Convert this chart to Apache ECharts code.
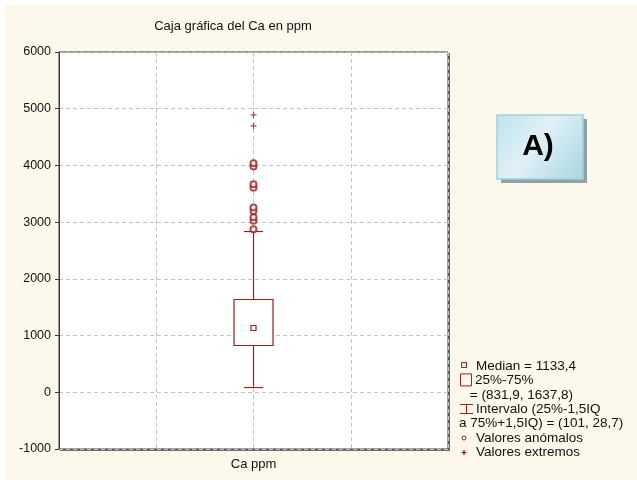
<!DOCTYPE html>
<html>
<head>
<meta charset="utf-8">
<script src="https://cdn.jsdelivr.net/npm/echarts@6/dist/echarts.min.js"></script>
<style>
html,body{margin:0;padding:0;background:#fff;}
#c{width:637px;height:480px;}
</style>
</head>
<body>
<div id="c"></div>
<script>
// ---- data ----
const categories = ['Ca ppm'];
// [whisker low, Q1, median, Q3, whisker high]
const boxStats = [101, 831.9, 1133.4, 1637.8, 2840];
const outliers = [2875, 3026, 3086, 3197, 3256, 3608, 3668, 3980, 4040];
const extremes = [4697, 4890];
const yMin = -1000, yMax = 6000, yStep = 1000;
const titleText = 'Caja gráfica del Ca en ppm';
const legendLines = [
  'Median = 1133,4',
  '25%-75%',
  ' = (831,9, 1637,8)',
  'Intervalo (25%-1,5IQ',
  'a 75%+1,5IQ) = (101, 28,7)',
  'Valores anómalos',
  'Valores extremos'
];

const RED = '#962020';
const FONT = 'Liberation Sans, Arial, sans-serif';

const chart = echarts.init(document.getElementById('c'), null, {renderer: 'canvas'});

const legendY0 = 366, legendDy = 14.4;
const legendGraphics = [];
const textX = [476, 475, 466, 476, 459, 476, 476];
legendLines.forEach((t, i) => {
  legendGraphics.push({
    type: 'text', x: textX[i], y: legendY0 + i * legendDy,
    style: {text: t, font: '13.5px ' + FONT, fill: '#111', textVerticalAlign: 'middle'}
  });
});
// icons
legendGraphics.push({type: 'rect', shape: {x: 461.5, y: legendY0 - 3.5, width: 5, height: 5}, style: {fill: 'none', stroke: RED, lineWidth: 1}});
legendGraphics.push({type: 'rect', shape: {x: 460.5, y: legendY0 + legendDy - 6.5, width: 11, height: 12}, style: {fill: 'none', stroke: RED, lineWidth: 1}});
const iy = Math.round(legendY0 + 3 * legendDy);
legendGraphics.push({type: 'line', shape: {x1: 466.5, y1: iy - 5, x2: 466.5, y2: iy + 5}, style: {stroke: RED, lineWidth: 1}});
legendGraphics.push({type: 'line', shape: {x1: 460, y1: iy - 4.5, x2: 473, y2: iy - 4.5}, style: {stroke: RED, lineWidth: 1}});
legendGraphics.push({type: 'line', shape: {x1: 460, y1: iy + 4.5, x2: 473, y2: iy + 4.5}, style: {stroke: RED, lineWidth: 1}});
legendGraphics.push({type: 'circle', shape: {cx: 464, cy: legendY0 + 5 * legendDy, r: 2}, style: {fill: 'none', stroke: RED, lineWidth: 1}});
const py = Math.round(legendY0 + 6 * legendDy);
legendGraphics.push({type: 'line', shape: {x1: 461.5, y1: py + 0.5, x2: 466.5, y2: py + 0.5}, style: {stroke: RED, lineWidth: 1.3}});
legendGraphics.push({type: 'line', shape: {x1: 464, y1: py - 2, x2: 464, y2: py + 3}, style: {stroke: RED, lineWidth: 1.3}});

const option = {
  backgroundColor: '#ffffff',
  animation: false,
  grid: {
    left: 59, top: 52, width: 389, height: 397,
    show: true, backgroundColor: '#ffffff', borderColor: '#3a3a3a', borderWidth: 1
  },
  graphic: [
    {type: 'rect', z: -100, shape: {x: 5, y: 5, width: 632, height: 475}, style: {fill: '#fdf8ec'}},
    {type: 'rect', z: -90, shape: {x: 60, y: 53, width: 390, height: 398}, style: {fill: '#6e6e6e'}},
    {type: 'text', x: 233, y: 26, z: 10,
      style: {text: titleText, font: '13px ' + FONT, fill: '#111', textAlign: 'center', textVerticalAlign: 'middle'}},
    // A) box
    {type: 'rect', shape: {x: 501, y: 119, width: 86, height: 64}, style: {fill: '#8fa1a7'}},
    {type: 'rect', shape: {x: 497, y: 115, width: 86, height: 64},
      style: {
        fill: new echarts.graphic.LinearGradient(0, 0, 1, 1, [
          {offset: 0, color: '#bfe2ec'}, {offset: 0.45, color: '#e1f1f6'}, {offset: 1, color: '#a7d5e1'}
        ]),
        stroke: '#9fd2df', lineWidth: 1.5
      }},
    {type: 'text', x: 538, y: 147,
      style: {text: 'A)', font: 'bold 30px ' + FONT, fill: '#000', textAlign: 'center', textVerticalAlign: 'middle'}},
    ...legendGraphics
  ],
  xAxis: [
    {
      type: 'category', data: categories, boundaryGap: true,
      axisLine: {show: false}, axisTick: {show: false}, splitLine: {show: false},
      axisLabel: {color: '#111', fontSize: 13, fontFamily: FONT, margin: 9}
    },
    {
      type: 'value', min: 0, max: 4, interval: 1, position: 'bottom',
      axisLine: {show: false}, axisTick: {show: false}, axisLabel: {show: false},
      splitLine: {show: true, lineStyle: {type: [4, 3], color: '#c4c4c4', width: 1}}
    }
  ],
  yAxis: {
    type: 'value', min: yMin, max: yMax, interval: yStep,
    axisLine: {show: true, lineStyle: {color: '#3a3a3a'}},
    axisTick: {show: true, length: 4, inside: false, lineStyle: {color: '#3a3a3a'}},
    axisLabel: {color: '#111', fontSize: 12.5, fontFamily: FONT, margin: 8, formatter: v => String(v)},
    splitLine: {show: true, lineStyle: {type: [4, 3], color: '#c4c4c4', width: 1}}
  },
  series: [
    {
      type: 'custom', xAxisIndex: 0,
      data: [[0].concat(boxStats)],
      encode: {x: 0, y: [1, 2, 3, 4, 5]},
      renderItem: function (params, api) {
        const x = api.value(0);
        const lo = api.coord([x, api.value(1)]);
        const q1 = api.coord([x, api.value(2)]);
        const md = api.coord([x, api.value(3)]);
        const q3 = api.coord([x, api.value(4)]);
        const hi = api.coord([x, api.value(5)]);
        const cx = Math.round(lo[0]) - 0.5;
        const bw = 39, cw = 19, ms = 5;
        const r = v => Math.round(v) + 0.5;
        const st = {stroke: RED, lineWidth: 1.2, fill: 'none'};
        return {
          type: 'group',
          children: [
            {type: 'line', shape: {x1: cx, y1: lo[1], x2: cx, y2: q1[1]}, style: st},
            {type: 'line', shape: {x1: cx, y1: q3[1], x2: cx, y2: hi[1]}, style: st},
            {type: 'line', shape: {x1: cx - cw / 2, y1: r(lo[1]), x2: cx + cw / 2, y2: r(lo[1])}, style: st},
            {type: 'line', shape: {x1: cx - cw / 2, y1: r(hi[1]), x2: cx + cw / 2, y2: r(hi[1])}, style: st},
            {type: 'rect', shape: {x: cx - bw / 2, y: r(q3[1]), width: bw, height: Math.round(q1[1] - q3[1])}, style: {stroke: RED, lineWidth: 1.2, fill: '#fff'}},
            {type: 'rect', shape: {x: cx - ms / 2, y: r(md[1]) - ms / 2 - 0.5, width: ms, height: ms}, style: st}
          ]
        };
      },
      z: 3
    },
    {
      type: 'scatter', xAxisIndex: 0,
      data: outliers.map(v => [0, v]),
      symbol: 'emptyCircle', symbolSize: 6,
      itemStyle: {color: RED, borderColor: RED, borderWidth: 1.2},
      z: 4
    },
    {
      type: 'scatter', xAxisIndex: 0,
      data: extremes.map(v => [0, v]),
      symbol: 'path://M4,0H6V4H10V6H6V10H4V6H0V4H4Z', symbolSize: 6,
      itemStyle: {color: RED},
      z: 4
    }
  ]
};
chart.setOption(option);
</script>
</body>
</html>
